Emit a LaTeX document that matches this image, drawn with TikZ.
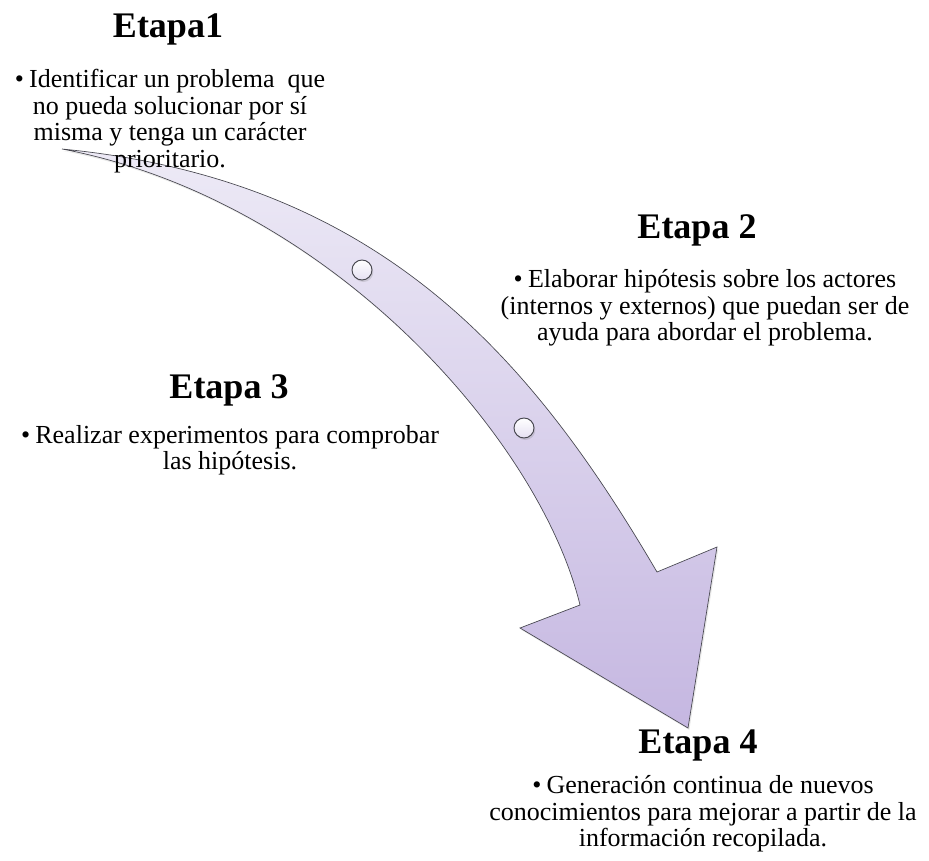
\documentclass[tikz,border=0pt]{standalone}
\usepackage{fontspec}
\setmainfont{Liberation Serif}
\usetikzlibrary{shadows}
\definecolor{lilaclaro}{RGB}{237,234,246}
\definecolor{lilaoscuro}{RGB}{197,183,225}
\definecolor{borde}{RGB}{70,70,78}
\newcommand{\bul}{\makebox[0.55em][l]{•}}
\tikzset{
	arrowbody/.style={draw=borde, line width=0.5pt, top color=lilaclaro, bottom color=lilaoscuro,
		drop shadow={shadow xshift=1pt, shadow yshift=-1.5pt, opacity=0.18}},
	etapadot/.style={draw=borde, line width=0.7pt, top color=white, bottom color=lilaclaro!80!lilaoscuro,
		drop shadow={shadow xshift=1pt, shadow yshift=-1.5pt, opacity=0.25}},
	etapahead/.style={font=\fontsize{27}{30}\selectfont\bfseries, inner sep=0pt, anchor=base},
	etapatext/.style={font=\fontsize{19.5}{20}\selectfont, align=center, inner sep=0pt, anchor=north}
}

\begin{document}
\begin{tikzpicture}[x=0.75pt, y=-0.75pt]
			%%%%% START %%%%%
			\useasboundingbox (0,0) rectangle (929,861);
			
			\draw[arrowbody] (62,149) .. controls (380,180) and (531,357) .. (657,572)
				-- (717,547) -- (688,728) -- (520,628) -- (580,605)
				.. controls (540,440) and (330,200) .. (62,149) -- cycle;
			
			\draw[etapadot] (362,270) circle (10);
			\draw[etapadot] (524,428) circle (10);
			
			\node[etapahead] (etapa1) at (168,37) {Etapa1};
			\node[etapatext] (texto1) at (170,69) {\bul Identificar un problema~ que\\no pueda solucionar por sí\\misma y tenga un carácter\\prioritario.};
			
			\node[etapahead] (etapa2) at (697,238) {Etapa 2};
			\node[etapatext] (texto2) at (705,269) {\bul Elaborar hipótesis sobre los actores\\(internos y externos) que puedan ser de\\ayuda para abordar el problema.};
			
			\node[etapahead] (etapa3) at (229,398) {Etapa 3};
			\node[etapatext] (texto3) at (230,425) {\bul Realizar experimentos para comprobar\\las hipótesis.};
			
			\node[etapahead] (etapa4) at (698,753) {Etapa 4};
			\node[etapatext] (texto4) at (703,775) {\bul Generación continua de nuevos\\conocimientos para mejorar a partir de la\\información recopilada.};
			
			%%%%% END %%%%%
\end{tikzpicture}
\end{document}
